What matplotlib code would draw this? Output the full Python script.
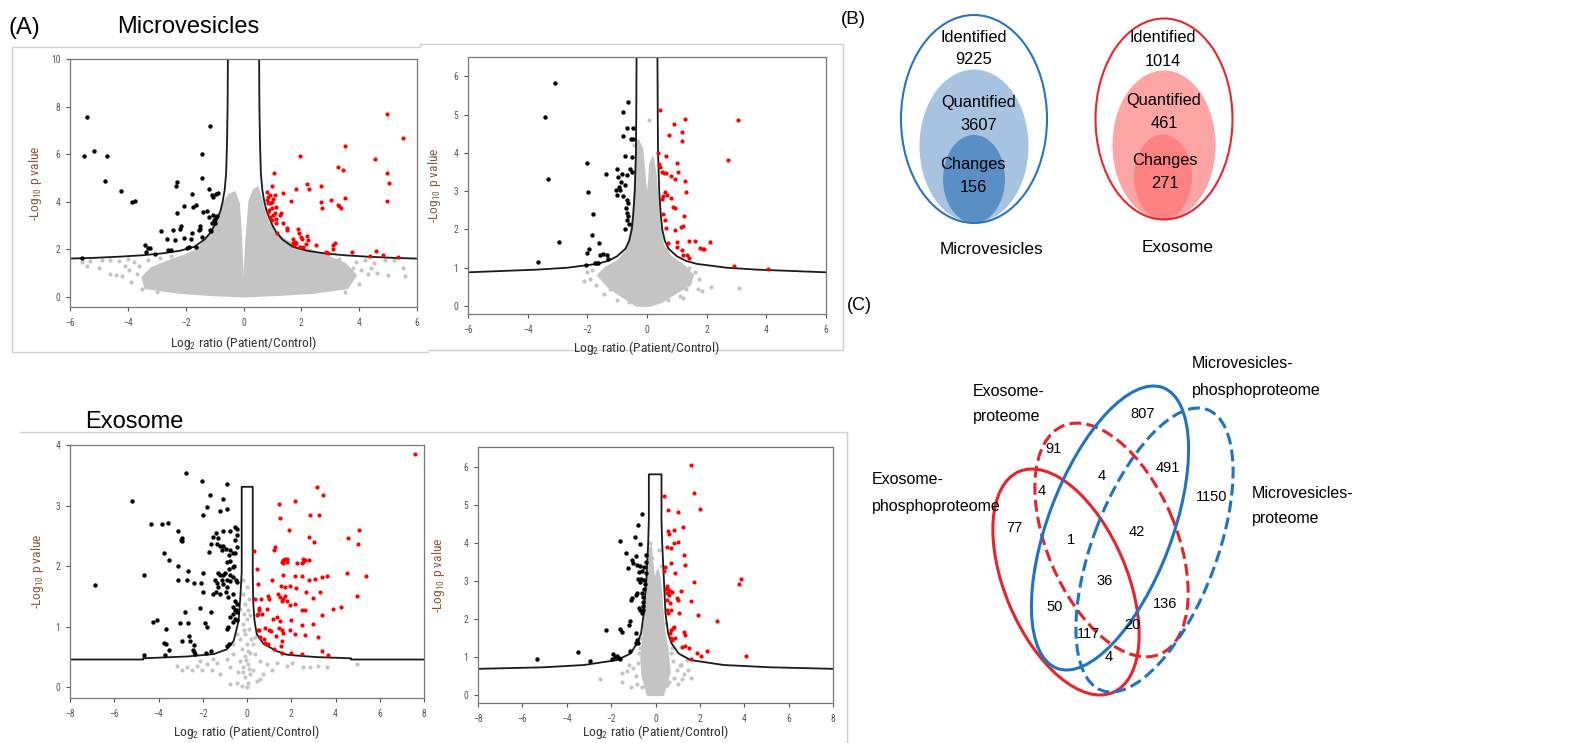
import numpy as np
import matplotlib
matplotlib.use('Agg')
import matplotlib.pyplot as plt
from matplotlib import font_manager as fm
from matplotlib.patches import Ellipse, Polygon

W, H = 1585, 743
plt.rcParams['mathtext.default'] = 'regular'

# pick the narrowest sans that is around (used for the small axis texts)
ents = fm.fontManager.ttflist


def has(name, stretch=None):
    return any(f.name == name and (stretch is None or str(f.stretch) == stretch) for f in ents)


if has('Liberation Sans Narrow'):
    NARROW, NS = dict(family='Liberation Sans Narrow'), 1.05
elif has('Arial Narrow'):
    NARROW, NS = dict(family='Arial Narrow'), 1.05
elif has('Roboto Condensed'):
    NARROW, NS = dict(family='Roboto Condensed'), 0.97
elif has('Noto Sans', 'condensed'):
    NARROW, NS = dict(family='Noto Sans', fontstretch='condensed'), 0.95
elif has('DejaVu Sans', 'condensed'):
    NARROW, NS = dict(family='DejaVu Sans', fontstretch='condensed'), 0.86
else:
    NARROW, NS = dict(family='Liberation Sans'), 0.85
REG = dict(family='Liberation Sans')

GRAY = '#c4c4c4'
RED = '#ff0000'

# ---------------- data (A) ----------------
# top left: microvesicles proteome
tl_curve_x = [0.54, 0.55, 0.57, 0.6, 0.65, 0.72, 0.8, 0.9, 1.0, 1.14, 1.35, 1.7, 2.2, 2.8, 3.5, 4.3, 5.2, 6.0]
tl_curve_y = [10, 8, 6.5, 5.2, 4.5, 4.0, 3.6, 3.3, 3.0, 2.7, 2.4, 2.1, 1.93, 1.82, 1.74, 1.68, 1.63, 1.6]
tl_black = [(-5.41, 7.55), (-5.50, 5.92), (-5.16, 6.13), (-4.72, 5.92), (-4.79, 4.85), (-4.22, 4.45), (-3.86, 3.98),
            (-3.74, 4.03), (-5.6, 1.64), (-1.16, 7.2), (-1.44, 6.0), (-1.44, 5.0), (-2.30, 4.84), (-2.32, 4.67),
            (-1.78, 4.33), (-1.19, 4.52), (-1.65, 3.86), (-1.74, 3.76), (-2.30, 3.53), (-1.40, 3.58), (-2.05, 3.81),
            (-1.10, 4.28), (-1.05, 4.19), (-0.96, 4.32), (-0.88, 4.36), (-1.26, 3.6), (-1.19, 3.37), (-1.07, 3.44),
            (-1.03, 3.23), (-0.96, 3.34), (-0.92, 3.39), (-0.99, 3.09), (-1.10, 3.11), (-1.16, 2.8), (-2.16, 2.97),
            (-2.2, 2.86), (-1.51, 2.99), (-1.49, 2.83), (-1.53, 2.8), (-2.45, 2.82), (-2.87, 2.75), (-1.78, 2.66),
            (-1.13, 2.76), (-2.63, 2.41), (-2.38, 2.38), (-2.05, 2.47), (-1.83, 2.44), (-1.45, 2.52), (-3.41, 2.17),
            (-3.30, 2.06), (-3.38, 1.88), (-3.24, 2.03), (-3.07, 1.8), (-2.6, 1.96), (-2.5, 1.96), (-1.97, 2.06),
            (-1.88, 2.09), (-1.63, 2.08)]
tl_red = [(4.97, 7.69), (5.52, 6.68), (3.52, 6.35), (4.54, 5.79), (1.95, 5.93), (3.28, 5.44), (3.43, 5.32), (4.97, 5.19),
          (5.03, 4.80), (1.05, 5.22), (2.18, 4.74), (2.27, 4.52), (2.68, 4.67), (1.83, 4.52), (1.0, 4.67), (1.35, 4.38),
          (3.52, 4.17), (3.02, 4.07), (2.68, 4.0), (2.7, 3.72), (3.28, 3.86), (3.36, 3.73), (3.3, 3.8), (4.95, 4.04),
          (1.64, 4.04), (0.80, 4.39), (0.85, 4.21), (0.91, 4.28), (1.03, 4.10), (1.10, 4.28), (1.0, 4.0), (0.93, 3.93),
          (1.14, 3.79), (0.97, 3.72), (0.85, 3.58), (1.08, 3.51), (0.93, 3.37), (1.0, 3.23), (1.14, 3.25), (1.26, 3.44),
          (1.31, 3.51), (1.12, 3.11), (1.35, 3.11), (1.49, 2.8), (1.51, 2.88), (0.8, 4.07), (0.84, 3.93), (0.89, 3.65),
          (1.03, 3.44), (1.17, 2.66), (1.87, 2.83), (1.93, 2.66), (2.18, 2.55), (2.24, 2.38), (2.0, 2.52), (2.04, 2.44),
          (1.72, 2.41), (1.79, 2.31), (1.70, 2.26), (1.75, 2.17), (1.83, 2.24), (2.07, 2.10), (2.16, 2.20), (1.95, 2.08),
          (2.5, 2.16), (3.16, 2.27), (3.11, 2.17), (3.1, 2.0), (2.85, 1.87), (2.93, 1.84), (3.74, 1.87), (4.58, 1.91),
          (4.39, 1.71), (4.83, 1.74), (5.33, 1.68)]
tl_gray_left = [(-3.4, 0.35), (-3.5, 0.8), (-3.2, 1.2), (-2.6, 1.5), (-2.0, 1.75), (-1.6, 2.0), (-1.3, 2.4), (-1.05, 2.9),
                (-0.85, 3.4), (-0.7, 3.9), (-0.5, 4.3), (-0.3, 4.4), (-0.15, 3.9), (-0.08, 2.5), (-0.03, 1.0), (0.0, 0.3),
                (0.0, 0.0), (-1.0, 0.05), (-2.2, 0.15)]
tl_gray_right = [(0.0, 0.0), (0.0, 0.3), (0.03, 1.0), (0.1, 2.5), (0.2, 4.0), (0.35, 4.5), (0.5, 4.6), (0.62, 4.1),
                 (0.72, 3.6), (0.88, 3.1), (1.1, 2.7), (1.5, 2.35), (2.1, 2.05), (2.8, 1.75), (3.5, 1.4), (3.9, 0.9),
                 (3.6, 0.35), (2.4, 0.15), (1.0, 0.05)]
tl_gray = [(-5.6, 1.45), (-5.3, 1.5), (-4.9, 1.52), (-4.6, 1.55), (-4.3, 1.5), (-4.0, 1.58), (-3.8, 1.45), (-3.6, 1.3),
           (-3.95, 1.1), (-4.4, 0.9), (-4.6, 0.95), (-4.2, 0.85), (-3.7, 0.95), (-3.3, 1.55), (-2.9, 1.62), (-2.5, 1.7),
           (-3.9, 0.6), (-3.0, 0.2), (-4.1, 1.3), (-5.0, 1.2), (3.9, 1.45), (4.2, 1.55), (4.5, 1.4), (4.9, 1.55),
           (5.2, 1.55), (5.6, 0.85), (5.0, 0.9), (4.6, 1.0), (4.3, 0.95), (4.05, 1.1), (3.7, 0.65), (4.0, 0.55),
           (3.3, 1.6), (2.8, 1.75), (4.4, 1.2), (3.8, 1.2), (-3.5, 0.3), (3.5, 0.2), (5.5, 1.2), (-5.4, 1.3)]

# top right: microvesicles phosphoproteome
tr_curve_x = [0.35, 0.36, 0.37, 0.41, 0.46, 0.51, 0.6, 0.72, 1.0, 1.3, 1.67, 2.67, 3.68, 6.0]
tr_curve_y = [6.5, 5.0, 4.0, 3.0, 2.4, 2.0, 1.7, 1.5, 1.3, 1.18, 1.1, 1.0, 0.95, 0.88]
tr_black = [(-3.09, 5.84), (-3.42, 4.93), (-3.31, 3.32), (-2.94, 1.67), (-3.67, 1.14), (-2.02, 3.75), (-1.99, 2.97),
            (-1.80, 2.41), (-1.86, 1.85), (-1.60, 1.64), (-1.95, 1.50), (-2.02, 1.39), (-2.05, 1.08), (-1.73, 1.12),
            (-1.69, 1.12), (-1.63, 1.13), (-1.58, 1.33), (-1.47, 1.36), (-1.35, 1.32), (-1.3, 1.22), (-1.38, 3.44),
            (-0.63, 5.32), (-0.82, 5.07), (-0.68, 4.64), (-0.46, 4.64), (-0.79, 4.43), (-0.54, 4.36), (-0.46, 4.36),
            (-0.51, 3.89), (-0.74, 3.91), (-1.0, 3.59), (-0.83, 3.45), (-0.68, 3.42), (-0.96, 3.38), (-0.88, 3.25),
            (-0.93, 3.12), (-1.04, 3.02), (-0.57, 3.57), (-0.49, 3.51), (-0.74, 3.16), (-1.0, 2.9), (-0.82, 2.88),
            (-0.91, 3.02), (-0.66, 2.77), (-0.63, 2.69), (-0.70, 2.55), (-0.66, 2.42), (-0.63, 2.34), (-0.66, 2.25),
            (-0.74, 2.02), (-0.59, 2.14)]
tr_red = [(0.44, 5.13), (1.28, 4.88), (0.92, 4.75), (3.06, 4.86), (1.16, 4.56), (0.73, 4.47), (1.16, 4.30), (0.38, 3.99),
          (0.63, 3.91), (2.71, 3.82), (1.0, 3.75), (0.41, 3.71), (0.44, 3.63), (1.05, 3.51), (0.49, 3.49), (0.57, 3.47),
          (0.64, 3.47), (0.81, 3.4), (0.94, 3.31), (1.28, 3.27), (1.31, 2.99), (0.6, 2.97), (0.66, 2.9), (0.53, 2.88),
          (0.51, 2.8), (0.81, 2.83), (0.88, 2.58), (0.94, 2.55), (1.25, 2.34), (0.55, 2.4), (0.6, 2.25), (0.63, 2.05),
          (0.94, 1.99), (1.13, 2.07), (1.2, 2.09), (0.69, 1.64), (1.0, 1.67), (1.0, 1.55), (1.42, 1.71), (1.61, 1.71),
          (2.11, 1.68), (1.16, 1.46), (1.22, 1.33), (1.33, 1.33), (1.42, 1.26), (1.78, 1.51), (1.87, 1.48), (1.91, 1.49),
          (2.92, 1.05), (4.07, 0.96)]
tr_gray_poly = [(-0.35, 0.0), (-0.85, 0.25), (-1.3, 0.5), (-1.65, 0.8), (-1.4, 1.0), (-0.95, 1.2), (-0.7, 1.45),
                (-0.55, 1.9), (-0.45, 2.6), (-0.4, 3.4), (-0.36, 4.0), (-0.3, 4.35), (-0.15, 4.1), (-0.05, 3.2),
                (0.02, 2.8), (0.1, 3.7), (0.2, 3.9), (0.3, 3.4), (0.36, 2.8), (0.42, 2.1), (0.55, 1.6), (0.8, 1.3),
                (1.25, 1.05), (1.55, 0.8), (1.45, 0.55), (1.0, 0.35), (0.5, 0.1), (0.1, 0.0)]
tr_gray = [(-2.0, 0.9), (-1.85, 0.95), (-1.7, 0.55), (-2.1, 0.65), (-1.45, 0.3), (-1.0, 0.15), (-0.6, 0.1), (1.7, 0.45),
           (1.85, 0.38), (2.15, 0.5), (3.1, 0.48), (1.6, 0.9), (1.4, 1.0), (1.2, 0.2), (0.08, 4.86), (-0.42, 4.2),
           (1.3, 0.45), (1.1, 0.25), (0.7, 0.15), (-1.25, 0.45), (-1.9, 0.7), (1.75, 0.7)]

# bottom left: exosome proteome
bl_curve_x = [-8, -4.7, -4.7, -2.7, -1.5, -0.9, -0.6, -0.38, -0.3, -0.24, -0.24, 0.26, 0.26, 0.28, 0.34, 0.44, 0.74,
              1.34, 1.8, 2.4, 3.15, 4.7, 4.7, 8]
bl_curve_y = [0.46, 0.46, 0.48, 0.51, 0.55, 0.63, 0.77, 1.1, 1.5, 1.9, 3.31, 3.31, 1.9, 1.4, 1.1, 0.88, 0.72,
              0.6, 0.54, 0.52, 0.50, 0.48, 0.46, 0.46]
bl_black = [(-2.76, 3.53), (-5.22, 3.08), (-6.85, 1.69), (-4.66, 1.85), (-4.66, 0.54), (-2.05, 3.41), (-1.67, 3.18),
            (-1.79, 2.98), (-2.0, 2.84), (-1.22, 2.91), (-1.07, 3.11), (-0.89, 3.36), (-0.92, 2.95), (-4.34, 2.69),
            (-3.82, 2.69), (-3.59, 2.71), (-3.11, 2.58), (-2.96, 2.46), (-2.93, 2.42), (-2.99, 2.43), (-3.74, 2.21),
            (-3.51, 2.11), (-3.14, 2.01), (-2.65, 1.92), (-2.73, 1.78), (-3.14, 1.77), (-2.38, 1.73), (-2.08, 1.72),
            (-1.98, 1.89), (-1.98, 1.57), (-2.13, 1.31), (-1.64, 1.24), (-2.79, 1.25), (-3.03, 1.06), (-2.65, 1.06),
            (-4.24, 1.08), (-4.09, 1.12), (-3.68, 0.96), (-3.74, 0.73), (-3.66, 0.72), (-2.96, 0.77), (-2.61, 0.84),
            (-2.58, 0.76), (-2.38, 0.70), (-3.51, 0.62), (-3.71, 0.54), (-2.43, 0.62), (-2.38, 0.58), (-2.35, 0.55),
            (-1.87, 0.56), (-1.64, 0.60), (-1.9, 1.06), (-1.83, 1.0), (-0.92, 0.97), (-0.84, 0.99), (-0.8, 0.72),
            (-0.9, 0.68), (-1.52, 2.49), (-1.40, 2.54), (-1.30, 2.47), (-1.10, 2.58), (-0.77, 2.58), (-0.47, 2.62),
            (-1.64, 2.36), (-1.70, 2.23), (-1.37, 2.37), (-1.22, 2.34), (-1.15, 2.26), (-1.07, 2.34), (-0.95, 2.29),
            (-0.77, 2.26), (-0.54, 2.44), (-0.62, 2.21), (-0.92, 2.07), (-0.77, 2.08), (-0.54, 2.21), (-0.57, 2.01),
            (-0.80, 1.96), (-1.30, 1.88), (-1.22, 1.85), (-1.10, 1.85), (-0.98, 1.88), (-0.77, 1.86), (-0.62, 1.82),
            (-0.50, 1.78), (-0.44, 1.74), (-1.45, 1.78), (-1.34, 1.72), (-1.07, 1.70), (-0.89, 1.66), (-0.77, 1.75),
            (-1.30, 1.66), (-1.52, 1.54), (-1.40, 1.57), (-1.22, 1.54), (-0.95, 1.57), (-0.84, 1.49), (-0.62, 1.54),
            (-0.54, 1.43), (-0.44, 1.38), (-0.62, 1.32), (-0.54, 1.27), (-0.44, 1.24), (-0.62, 1.21), (-0.77, 1.16),
            (-0.54, 1.13), (-0.44, 1.12), (-0.65, 1.08), (-0.5, 1.27), (-0.92, 1.77), (-1.15, 1.77), (-0.62, 1.99),
            (-0.80, 2.18), (-0.44, 2.51), (-0.44, 2.32), (-0.54, 2.65)]
bl_red = [(7.6, 3.85), (3.15, 3.31), (3.45, 3.17), (2.17, 3.08), (1.46, 3.02), (1.49, 2.79), (2.85, 2.84), (3.27, 2.85),
          (5.04, 2.59), (1.92, 2.59), (4.55, 2.47), (5.0, 2.37), (2.78, 2.48), (3.05, 2.40), (1.22, 2.26), (1.27, 2.32),
          (0.32, 2.25), (1.61, 2.11), (1.72, 2.12), (1.83, 2.12), (1.64, 2.05), (1.57, 2.07), (1.80, 2.07), (2.25, 2.05),
          (2.47, 2.05), (2.55, 2.12), (2.52, 2.07), (2.62, 2.10), (2.78, 2.11), (0.47, 1.95), (1.12, 1.78), (1.64, 1.85),
          (2.17, 1.83), (2.47, 1.83), (2.82, 1.78), (3.08, 1.79), (3.38, 1.82), (3.63, 1.83), (4.51, 1.89), (5.37, 1.83),
          (0.51, 1.70), (1.52, 1.67), (1.72, 1.66), (1.95, 1.67), (2.22, 1.64), (2.67, 1.58), (3.30, 1.58), (4.96, 1.51),
          (0.38, 1.46), (0.62, 1.46), (1.01, 1.46), (0.94, 1.50), (1.42, 1.54), (1.49, 1.49), (1.57, 1.43), (1.64, 1.46),
          (1.72, 1.50), (1.80, 1.42), (0.56, 1.31), (0.56, 1.27), (0.89, 1.29), (1.95, 1.36), (2.17, 1.38), (2.47, 1.28),
          (3.0, 1.48), (2.62, 1.28), (3.88, 1.29), (4.25, 1.32), (0.44, 1.19), (0.51, 1.21), (0.66, 1.21), (1.16, 1.13),
          (1.34, 1.16), (1.49, 1.09), (1.98, 1.11), (3.38, 1.19), (0.51, 0.94), (0.56, 0.95), (0.81, 0.98), (1.01, 0.94),
          (1.07, 0.93), (1.46, 0.98), (1.57, 0.95), (1.95, 0.95), (2.47, 1.03), (2.97, 1.05), (0.6, 0.83), (0.78, 0.80),
          (1.31, 0.85), (1.61, 0.89), (1.57, 0.77), (2.17, 0.88), (2.62, 0.87), (3.23, 0.83), (0.8, 0.73), (0.94, 0.72),
          (1.22, 0.63), (1.54, 0.69), (1.57, 0.57), (1.98, 0.57), (2.47, 0.55), (3.38, 0.60), (3.68, 0.53)]
bl_gray = [(-0.77, 0.06), (-0.24, 0.03), (0.0, 0.01), (0.06, 0.08), (-0.09, 0.17), (0.14, 0.22), (-0.20, 0.25),
           (0.44, 0.11), (0.59, 0.14), (-0.47, 0.08), (0.29, 0.28), (-0.17, 0.33), (0.06, 0.39), (-0.32, 0.44),
           (-0.09, 0.52), (0.14, 0.56), (-0.24, 0.63), (0.0, 0.72), (-0.32, 0.80), (-0.09, 0.88), (0.11, 0.97),
           (-0.20, 1.05), (0.02, 1.13), (-0.14, 1.21), (0.06, 1.28), (-0.09, 1.38), (0.11, 1.46), (-0.17, 1.54),
           (0.0, 1.66), (-0.20, 1.77), (0.29, 0.72), (0.36, 0.83), (-0.47, 0.88), (-0.62, 0.72), (-0.92, 0.47),
           (-1.37, 0.41), (-1.83, 0.39), (-2.28, 0.36), (-2.73, 0.33), (-2.96, 0.28), (-3.18, 0.36), (-2.50, 0.28),
           (-2.05, 0.28), (-1.60, 0.29), (-1.22, 0.22), (0.89, 0.39), (1.34, 0.41), (1.80, 0.36), (2.02, 0.40),
           (2.55, 0.34), (2.85, 0.33), (3.23, 0.36), (3.60, 0.34), (4.96, 0.39), (0.74, 0.22), (1.12, 0.28),
           (0.59, 0.44), (0.36, 0.55), (-0.62, 0.55), (-0.77, 0.33), (-1.52, 0.47), (-2.13, 0.44), (0.1, 0.3),
           (-0.05, 0.45), (0.2, 0.8), (-0.15, 0.95), (0.15, 1.2), (-0.3, 1.3), (0.05, 0.6), (-0.4, 0.25)]

# bottom right: exosome phosphoproteome
br_curve_x = [-8, -5.03, -3.23, -1.73, -1.13, -0.83, -0.65, -0.53, -0.41, -0.33, -0.30, -0.30,
              0.27, 0.27, 0.3, 0.38, 0.45, 0.57, 0.72, 1.05, 1.58, 3.08, 5.18, 8]
br_curve_y = [0.69, 0.73, 0.79, 0.92, 1.09, 1.36, 1.62, 2.15, 3.02, 4.0, 4.6, 5.8,
              5.8, 4.6, 4.0, 3.02, 2.15, 1.62, 1.36, 1.09, 0.92, 0.79, 0.73, 0.69]
br_black = [(-0.63, 4.75), (-0.77, 4.46), (-0.93, 4.16), (-0.71, 3.97), (-1.62, 4.05), (-1.31, 3.74), (-1.08, 3.55),
            (-0.90, 3.66), (-1.23, 3.33), (-0.41, 3.68), (-0.45, 3.50), (-1.01, 3.46), (-0.83, 3.42), (-0.68, 3.39),
            (-0.53, 3.37), (-0.60, 3.27), (-0.75, 3.24), (-0.45, 3.20), (-0.65, 3.06), (-0.78, 3.04), (-0.53, 3.02),
            (-0.71, 2.98), (-0.46, 2.93), (-0.53, 2.80), (-0.60, 2.67), (-0.90, 2.63), (-0.83, 2.67), (-1.05, 2.54),
            (-1.10, 2.50), (-0.55, 2.57), (-0.56, 2.45), (-0.75, 2.30), (-0.68, 2.23), (-0.56, 2.23), (-0.60, 2.15),
            (-0.57, 2.34), (-1.16, 1.95), (-1.20, 1.83), (-2.21, 1.71), (-1.61, 1.73), (-1.50, 1.66), (-0.90, 1.64),
            (-0.82, 1.44), (-0.88, 1.36), (-0.80, 1.38), (-3.48, 1.14), (-2.93, 0.90), (-5.33, 0.94), (-1.91, 1.08),
            (-1.83, 1.01), (-1.73, 1.02), (-1.95, 0.96), (-1.65, 0.98), (-1.16, 1.16), (-1.61, 0.95)]
br_red = [(1.58, 6.04), (1.74, 5.30), (2.0, 4.89), (0.38, 5.24), (0.57, 4.86), (1.02, 4.82), (1.25, 4.42), (0.83, 4.35),
          (0.57, 4.32), (0.63, 4.22), (0.50, 3.88), (0.68, 3.87), (0.83, 4.0), (1.02, 4.03), (1.28, 3.68), (1.32, 3.41),
          (0.72, 3.46), (0.42, 3.37), (0.40, 3.26), (0.90, 3.21), (1.73, 2.97), (3.87, 3.04), (3.75, 2.91), (0.53, 2.86),
          (0.57, 2.80), (0.47, 2.78), (0.65, 2.74), (0.50, 2.67), (0.60, 2.63), (0.75, 2.71), (1.13, 2.74), (0.95, 2.54),
          (1.02, 2.50), (0.53, 2.50), (0.65, 2.43), (1.58, 2.48), (0.5, 2.23), (0.55, 2.15), (0.72, 2.23), (1.05, 2.15),
          (1.91, 2.10), (2.78, 1.94), (0.78, 1.75), (0.71, 1.71), (0.83, 1.78), (0.64, 1.64), (0.7, 1.49), (0.90, 1.49),
          (1.28, 1.66), (1.31, 1.58), (1.20, 1.27), (1.35, 1.29), (1.50, 1.23), (2.30, 1.16), (1.88, 1.11), (2.03, 1.02),
          (1.62, 0.95), (4.10, 1.02), (0.74, 1.44)]
br_gray_poly = [(-0.35, 0.0), (-0.6, 0.5), (-0.65, 1.0), (-0.55, 1.6), (-0.45, 2.2), (-0.35, 3.0), (-0.3, 3.85),
                (-0.2, 3.9), (-0.05, 3.0), (0.1, 3.3), (0.2, 3.1), (0.3, 2.4), (0.4, 1.7), (0.55, 1.2), (0.65, 0.6),
                (0.35, 0.0)]
br_gray = [(-1.53, 0.59), (-2.5, 0.41), (-1.49, 0.35), (-0.83, 0.29), (-0.9, 0.5), (-1.0, 0.7), (-0.8, 0.85),
           (-1.2, 0.8), (-0.75, 1.1), (-0.6, 0.2), (-0.4, 0.08), (-0.2, 0.04), (0.1, 0.04), (0.53, 0.26), (0.7, 1.1),
           (0.8, 0.9), (0.98, 0.66), (1.1, 0.8), (1.3, 0.55), (1.2, 0.42), (1.45, 0.65), (1.61, 0.44), (1.43, 0.92),
           (1.13, 0.79), (0.6, 0.35), (0.85, 0.45), (1.0, 0.3), (-1.1, 0.2), (-1.3, 0.62), (-0.7, 1.5), (0.2, 2.6),
           (-0.2, 2.4), (0.25, 3.4), (-0.15, 3.6), (-0.5, 1.85), (0.15, 3.8), (-0.25, 4.0), (0.45, 1.9), (-0.7, 1.25),
           (0.75, 1.25)]

# ---------------- data (B) ----------------
b_levels = ['Identified', 'Quantified', 'Changes']
b_micro = [9225, 3607, 156]
b_exo = [1014, 461, 271]

# ---------------- data (C) ----------------
c_sets = ['Exosome-\nphosphoproteome', 'Exosome-\nproteome', 'Microvesicles-\nphosphoproteome', 'Microvesicles-\nproteome']
c_counts = [807, 91, 4, 491, 1150, 4, 77, 1, 42, 36, 50, 136, 20, 117, 4]


def px_rect(l, t, r, b):
    return [l / W, 1 - b / H, (r - l) / W, (b - t) / H]


fig = plt.figure(figsize=(W / 100, H / 100), dpi=100)

# overlay in pixel coordinates for frames, labels, (B) and (C)
ov = fig.add_axes([0, 0, 1, 1], zorder=0)
ov.set_xlim(0, W)
ov.set_ylim(H, 0)
ov.axis('off')

fc = '#d0d0d0'
ov.plot([428, 12, 12, 420, 420, 843, 843, 428], [352, 352, 47, 47, 44, 44, 350, 350], color=fc, lw=1)
ov.plot([20, 847, 847], [432, 432, 743], color=fc, lw=1)

ov.text(8, 28, '(A)', fontsize=17, va='center', ha='left', **REG)
ov.text(117, 27, 'Microvesicles', fontsize=17, va='center', ha='left', **REG)
ov.text(85, 422, 'Exosome', fontsize=17, va='center', ha='left', **REG)


def volcano(rect, xlim, ylim, xticks, yticks, polys, gray, curves, black, red, ylab_x, xlab_off):
    ax = fig.add_axes(px_rect(*rect), zorder=2)
    for p in polys:
        ax.add_patch(Polygon(p, closed=True, fc=GRAY, ec=GRAY, lw=1.2, zorder=1))
    g = np.array(gray)
    ax.scatter(g[:, 0], g[:, 1], s=9, c=GRAY, lw=0, zorder=1)
    for cx, cy in curves:
        ax.plot(cx, cy, color='#1a1a1a', lw=1.3, zorder=2)
    b = np.array(black)
    ax.scatter(b[:, 0], b[:, 1], s=10, c='black', lw=0, zorder=3)
    r = np.array(red)
    ax.scatter(r[:, 0], r[:, 1], s=9, c=RED, lw=0, zorder=3)
    ax.set_xlim(*xlim)
    ax.set_ylim(*ylim)
    ax.set_xticks(xticks)
    ax.set_yticks(yticks)
    ax.tick_params(direction='out', length=3, width=0.8, colors='#555555', labelsize=7.2 * NS)
    ax.tick_params(axis='x', pad=5)
    ax.tick_params(axis='y', pad=4)
    for lbl in ax.get_xticklabels() + ax.get_yticklabels():
        lbl.set(**NARROW)
    for s in ax.spines.values():
        s.set_color('#777777')
        s.set_linewidth(0.9)
    hpx = rect[3] - rect[1]
    ax.set_xlabel('Log$_2$ ratio (Patient/Control)', fontsize=10 * NS, color='#333333', **NARROW)
    ax.xaxis.set_label_coords(0.5, -xlab_off / hpx)
    ax.set_ylabel('-Log$_{10}$ p value', fontsize=10 * NS, color='#8b5a3c', **NARROW)
    ax.yaxis.set_label_coords(ylab_x, 0.5)
    return ax


tlx = np.array(tl_curve_x)
trx = np.array(tr_curve_x)
volcano((70, 59, 417, 307.3), (-6, 6), (-0.45, 10), range(-6, 7, 2), range(0, 11, 2),
        [tl_gray_left, tl_gray_right], tl_gray,
        [(tlx, tl_curve_y), (-tlx, tl_curve_y)], tl_black, tl_red, -0.075, 27)
volcano((468, 57.3, 826, 314), (-6, 6), (-0.21, 6.5), range(-6, 7, 2), range(0, 7),
        [tr_gray_poly], tr_gray,
        [(trx, tr_curve_y), (-trx, tr_curve_y)], tr_black, tr_red, -0.07, 25)
volcano((70, 445, 424, 698.3), (-8, 8), (-0.18, 4.0), range(-8, 9, 2), range(0, 5),
        [], bl_gray, [(bl_curve_x, bl_curve_y)], bl_black, bl_red, -0.068, 25)
volcano((478, 447.3, 833, 702.7), (-8, 8), (-0.2, 6.51), range(-8, 9, 2), range(0, 7),
        [br_gray_poly], br_gray, [(br_curve_x, br_curve_y)], br_black, br_red, -0.087, 20)

# ---------------- (B) ----------------
ov.text(841, 20, '(B)', fontsize=13.5, va='center', ha='left', **REG)

blue_line, blue_q, blue_c = '#2a74bb', '#a7c3e0', '#5a8fc6'
red_line, red_q, red_c = '#e8262b', '#fda5a5', '#ff8282'

ov.add_patch(Ellipse((974, 146), 109, 153, fc=blue_q, ec='none', zorder=1))
ov.add_patch(Ellipse((974, 179), 62, 88, fc=blue_c, ec='none', zorder=2))
ov.add_patch(Ellipse((974, 119), 146, 208, fc='none', ec=blue_line, lw=1.5, zorder=3))
ov.add_patch(Ellipse((1164, 145), 103, 149, fc=red_q, ec='none', zorder=1))
ov.add_patch(Ellipse((1163, 177), 58, 85, fc=red_c, ec='none', zorder=2))
ov.add_patch(Ellipse((1164, 119), 137, 201, fc='none', ec=red_line, lw=1.5, zorder=3))

mv_pos = [(974, 37, 60), (979, 102, 125), (973, 164, 187)]
ex_pos = [(1163, 38, 61), (1164, 100, 123), (1165, 161, 183)]
for lev, n, (x, y1, y2) in zip(b_levels, b_micro, mv_pos):
    ov.text(x, y1, lev, fontsize=11.8, ha='center', va='center', zorder=5, **REG)
    ov.text(x, y2, str(n), fontsize=11.8, ha='center', va='center', zorder=5, **REG)
for lev, n, (x, y1, y2) in zip(b_levels, b_exo, ex_pos):
    ov.text(x, y1, lev, fontsize=11.8, ha='center', va='center', zorder=5, **REG)
    ov.text(x, y2, str(n), fontsize=11.8, ha='center', va='center', zorder=5, **REG)
ov.text(991, 249, 'Microvesicles', fontsize=12.4, ha='center', va='center', **REG)
ov.text(1178, 248, 'Exosome', fontsize=12.4, ha='center', va='center', **REG)

# ---------------- (C) ----------------
ov.text(847, 306, '(C)', fontsize=13, va='center', ha='left', **REG)

vred, vblue = '#e8232a', '#1f74c0'
dash = (0, (3.9, 1.7))
ov.add_patch(Ellipse((1066, 582), 240, 122, angle=67, fc='none', ec=vred, lw=2.2, zorder=3))
ov.add_patch(Ellipse((1111.5, 540), 248, 129, angle=67, fc='none', ec=vred, lw=2.2, ls=dash, zorder=3))
ov.add_patch(Ellipse((1110, 528), 300, 124, angle=-69.3, fc='none', ec=vblue, lw=2.2, zorder=3))
ov.add_patch(Ellipse((1154.5, 550), 300, 124, angle=-69.3, fc='none', ec=vblue, lw=2.2, ls=dash, zorder=3))

set_pos = [(872, 480, 507), (973, 391, 417), (1192, 363, 390), (1252, 493, 519)]
for name, (x, y1, y2) in zip(c_sets, set_pos):
    l1, l2 = name.split('\n')
    ov.text(x, y1, l1, fontsize=11.5, ha='left', va='center', **REG)
    ov.text(x, y2, l2, fontsize=11.5, ha='left', va='center', **REG)

num_pos = [(1143, 414), (1054, 449), (1102, 476), (1168, 468), (1212, 497), (1042, 491), (1014, 528), (1071, 540),
           (1137, 532), (1105, 581), (1055, 607), (1165, 604), (1132, 625), (1089, 634), (1109, 657)]
for n, (x, y) in zip(c_counts, num_pos):
    ov.text(x, y, str(n), fontsize=10.5, ha='center', va='center', zorder=5, **REG)

fig.savefig('out.png', dpi=100)
